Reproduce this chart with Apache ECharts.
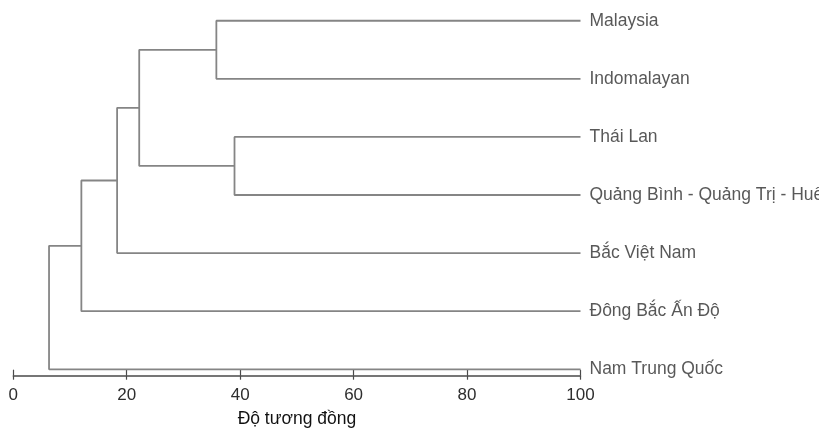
<!DOCTYPE html>
<html>
<head>
<meta charset="utf-8">
<script src="https://cdn.jsdelivr.net/npm/echarts@6/dist/echarts.min.js"></script>
<style>
  html, body { margin: 0; padding: 0; background: #fff; }
  #chart { width: 819px; height: 440px; }
</style>
</head>
<body>
<div id="chart"></div>
<script>
// Leaves of the dendrogram, top to bottom
const leaves = [
  'Malaysia',
  'Indomalayan',
  'Thái Lan',
  'Quảng Bình - Quảng Trị - Huế',
  'Bắc Việt Nam',
  'Đông Bắc Ấn Độ',
  'Nam Trung Quốc'
];
// Similarity level at which each leaf sits
const leafLevel = 100;
// Merge steps: [child A, child B, similarity]; node ids 0..6 are leaves,
// each merge creates the next id (7, 8, ...)
const mergeLeft  = [0, 2, 7, 9, 10, 11];
const mergeRight = [1, 3, 8, 4, 5, 6];
const mergeLevel = [35.8, 39.0, 22.2, 18.3, 12.0, 6.3];
// Axis ticks
const xTicks = [0, 20, 40, 60, 80, 100];
const axisTitle = 'Độ tương đồng';

const FONT = '"Liberation Sans", Arial, sans-serif';
const LINE = '#858585';

// Node positions: x = similarity level, y = leaf order (mean of children for merges)
const nodeX = leaves.map(() => leafLevel);
const nodeY = leaves.map((_, i) => i);
for (let k = 0; k < mergeLevel.length; k++) {
  nodeX.push(mergeLevel[k]);
  nodeY.push((nodeY[mergeLeft[k]] + nodeY[mergeRight[k]]) / 2);
}

// One bracket per merge
const bracketSeries = mergeLevel.map((lvl, k) => {
  const a = mergeLeft[k], b = mergeRight[k];
  return {
    type: 'line',
    silent: true,
    symbol: 'none',
    animation: false,
    lineStyle: { color: LINE, width: 1.8 },
    data: [
      [nodeX[a], nodeY[a]],
      [lvl, nodeY[a]],
      [lvl, nodeY[b]],
      [nodeX[b], nodeY[b]]
    ]
  };
});

// Leaf names drawn to the right of each leaf end
const labelSeries = {
  type: 'scatter',
  silent: true,
  animation: false,
  symbolSize: 0,
  data: leaves.map((name, i) => ({ value: [leafLevel, i], name })),
  label: {
    show: true,
    position: 'right',
    distance: 9,
    formatter: p => p.name,
    color: '#2e2e2e',
    fontSize: 17.5,
    fontFamily: FONT
  }
};

const chart = echarts.init(document.getElementById('chart'), null, { renderer: 'canvas' });
chart.setOption({
  backgroundColor: '#ffffff',
  animation: false,
  grid: { left: 13.3, right: 238.5, top: 3.3, bottom: 64.3, containLabel: false },
  xAxis: [
    {
      type: 'value',
      min: 0, max: 100, interval: 20,
      splitLine: { show: false },
      axisLine: { show: true, onZero: false, lineStyle: { color: '#4a4a4a', width: 1.5 } },
      axisTick: { show: true, length: 4, lineStyle: { color: '#4a4a4a', width: 1.2 } },
      axisLabel: {
        color: '#2e2e2e', fontSize: 17, fontFamily: FONT, margin: 11,
        formatter: v => (xTicks.includes(v) ? String(v) : '')
      },
      name: axisTitle,
      nameLocation: 'middle',
      nameGap: 34,
      nameTextStyle: { color: '#111', fontSize: 17.5, fontFamily: FONT }
    },
    {
      type: 'value',
      position: 'bottom',
      min: 0, max: 100, interval: 20,
      splitLine: { show: false },
      axisLine: { show: false, onZero: false },
      axisTick: { show: true, inside: true, length: 6, lineStyle: { color: '#4a4a4a', width: 1.2 } },
      axisLabel: { show: false }
    }
  ],
  yAxis: {
    type: 'value',
    inverse: true,
    min: -0.3, max: 6.11,
    show: false
  },
  series: bracketSeries.concat([labelSeries])
});
</script>
</body>
</html>
